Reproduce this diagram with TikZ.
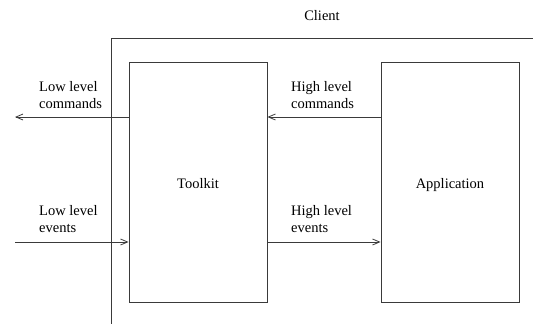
\documentclass[tikz,border=0pt]{standalone}
\usepackage{fontspec}
\setmainfont{Liberation Serif}
\usetikzlibrary{arrows.meta}
\definecolor{ln}{HTML}{3A3A3A}
\tikzset{
  box/.style={draw=ln, line width=0.9pt, minimum width=138pt, minimum height=240pt, inner sep=0pt},
  lbl/.style={align=left, anchor=west, inner sep=0pt, font=\fontsize{14.5}{17}\selectfont},
  txt/.style={inner sep=0pt, font=\fontsize{14.5}{17}\selectfont},
  conn/.style={draw=ln, line width=0.9pt, -{Straight Barb[length=7pt,width=6pt,line width=0.8pt]}},
  frame/.style={draw=ln, line width=0.9pt}
}
\begin{document}
\begin{tikzpicture}[x=1pt,y=-1pt]
\useasboundingbox (0,0) rectangle (533,324);
\draw[frame] (111,324) -- (111,38) -- (533,38);
\node[txt] (client) at (322,16) {Client};
\node[box] (tk) at (198,182) {};
\node[box] (app) at (450,182) {};
\node[txt] (tklbl) at (198,184) {Toolkit};
\node[txt] (applbl) at (450,185) {Application};
\coordinate (lo) at (15,117);
\coordinate (li) at (15,242);
\draw[conn] (tk.west |- lo) -- (lo);
\draw[conn] (li) -- (tk.west |- li);
\draw[conn] (app.west |- lo) -- (tk.east |- lo);
\draw[conn] (tk.east |- li) -- (app.west |- li);
\node[lbl] (lcmd) at (39,95) {Low level\\commands};
\node[lbl] (lev) at (39,219) {Low level\\events};
\node[lbl] (hcmd) at (291,95) {High level\\commands};
\node[lbl] (hev) at (291,219) {High level\\events};
\end{tikzpicture}
\end{document}
